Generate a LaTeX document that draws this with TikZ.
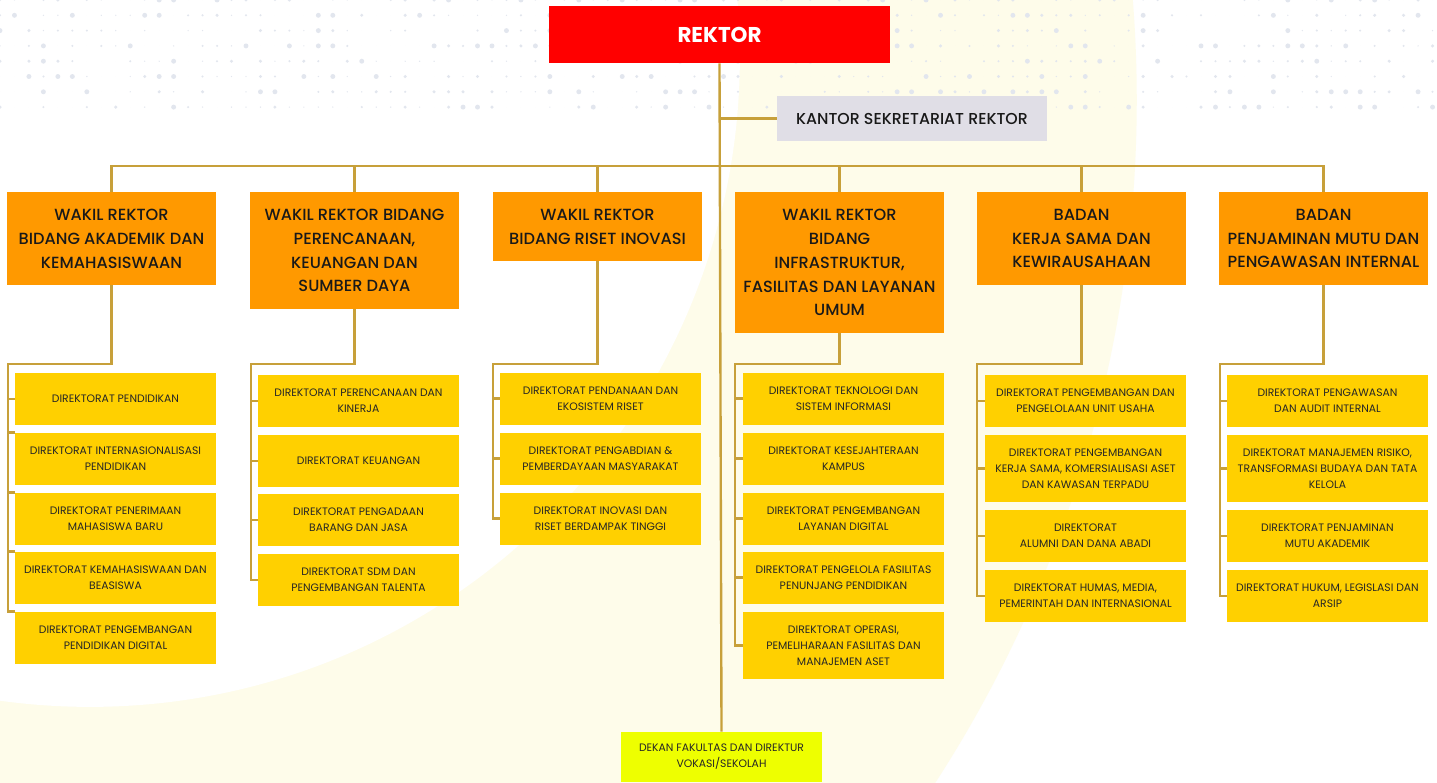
\documentclass[tikz,border=0pt]{standalone}
\usepackage{fontspec}
\setmainfont{Poppins}
\newfontfamily\popmed{Poppins Medium}
\definecolor{rekred}{RGB}{255,0,0}
\definecolor{wrorange}{RGB}{255,153,0}
\definecolor{dirgold}{RGB}{255,208,0}
\definecolor{dekyellow}{RGB}{238,255,0}
\definecolor{ksgrey}{RGB}{224,222,230}
\definecolor{linegold}{RGB}{199,160,58}
\definecolor{cream}{RGB}{254,252,234}
\definecolor{dotgrey}{RGB}{226,230,238}

\begin{document}
\begin{tikzpicture}[x=0.02cm,y=-0.02cm,
  wr/.style={fill=wrorange,minimum width=4.18cm,inner sep=0pt,align=center,text=black!90,font=\popmed\fontsize{9.2}{13.6}\selectfont},
  dir/.style={fill=dirgold,minimum width=4.02cm,minimum height=1.04cm,inner sep=0pt,align=center,text=black!85,font=\fontsize{6.15}{9.1}\selectfont},
  conn/.style={draw=linegold,line width=1.35pt}]

  \useasboundingbox (0,0) rectangle (1437,782);
  \begin{scope}
    \clip (0,0) rectangle (1437,782);
    \fill[white] (0,0) rectangle (1437,782);
    \fill[cream] (-120,100) circle (25.14cm);
    \fill[white] (90,57) circle (13cm);
    \pgfmathsetseed{11}
    \foreach \i in {0,...,99}{
      \foreach \j in {0,...,7}{
        \pgfmathsetmacro{\rr}{{0,0,0.4,0.65,0.95,1.4}[random(0,5)]}
        \fill[dotgrey] (\i*14.47,\j*15.3) circle (\rr pt);
      }}
  \end{scope}

  \node[fill=rekred,minimum width=6.82cm,minimum height=1.14cm,text=white,font=\bfseries\fontsize{12.2}{14}\selectfont] (rektor) at (719.5,34.5) {REKTOR};
  \node[fill=ksgrey,minimum width=5.4cm,minimum height=0.9cm,text=black!90,font=\popmed\fontsize{9}{11}\selectfont] (ks) at (912,118.5) {KANTOR SEKRETARIAT REKTOR};
  \node[dir,fill=dekyellow,minimum height=1.0cm] (dekan) at (721.5,757) {DEKAN FAKULTAS DAN DIREKTUR\\VOKASI/SEKOLAH};
  \coordinate (bus) at (720,166);

  \node[wr,minimum height=1.86cm] (wrA) at (111.5,238.5) {WAKIL REKTOR\\BIDANG AKADEMIK DAN\\KEMAHASISWAAN};
  \node[wr,minimum height=2.34cm] (wrB) at (354.5,250.5) {WAKIL REKTOR BIDANG\\PERENCANAAN,\\KEUANGAN DAN\\SUMBER DAYA};
  \node[wr,minimum height=1.38cm] (wrC) at (597.5,226.5) {WAKIL REKTOR\\BIDANG RISET INOVASI};
  \node[wr,minimum height=2.82cm] (wrD) at (839.5,262.5) {WAKIL REKTOR\\BIDANG\\INFRASTRUKTUR,\\FASILITAS DAN LAYANAN\\UMUM};
  \node[wr,minimum height=1.86cm] (wrE) at (1081.5,238.5) {BADAN\\KERJA SAMA DAN\\KEWIRAUSAHAAN};
  \node[wr,minimum height=1.86cm] (wrF) at (1323.5,238.5) {BADAN\\PENJAMINAN MUTU DAN\\PENGAWASAN INTERNAL};

  \node[dir] (dA1) at (115.5,399) {DIREKTORAT PENDIDIKAN};
  \node[dir] (dA2) at (115.5,459) {DIREKTORAT INTERNASIONALISASI\\PENDIDIKAN};
  \node[dir] (dA3) at (115.5,519) {DIREKTORAT PENERIMAAN\\MAHASISWA BARU};
  \node[dir] (dA4) at (115.5,578) {DIREKTORAT KEMAHASISWAAN DAN\\BEASISWA};
  \node[dir] (dA5) at (115.5,638) {DIREKTORAT PENGEMBANGAN\\PENDIDIKAN DIGITAL};

  \node[dir] (dB1) at (358.5,401) {DIREKTORAT PERENCANAAN DAN\\KINERJA};
  \node[dir] (dB2) at (358.5,461) {DIREKTORAT KEUANGAN};
  \node[dir] (dB3) at (358.5,520) {DIREKTORAT PENGADAAN\\BARANG DAN JASA};
  \node[dir] (dB4) at (358.5,580) {DIREKTORAT SDM DAN\\PENGEMBANGAN TALENTA};

  \node[dir] (dC1) at (600.5,398.5) {DIREKTORAT PENDANAAN DAN\\EKOSISTEM RISET};
  \node[dir] (dC2) at (600.5,458.5) {DIREKTORAT PENGABDIAN \&\\PEMBERDAYAAN MASYARAKAT};
  \node[dir] (dC3) at (600.5,518.5) {DIREKTORAT INOVASI DAN\\RISET BERDAMPAK TINGGI};

  \node[dir] (dD1) at (843.5,398.5) {DIREKTORAT TEKNOLOGI DAN\\SISTEM INFORMASI};
  \node[dir] (dD2) at (843.5,458.5) {DIREKTORAT KESEJAHTERAAN\\KAMPUS};
  \node[dir] (dD3) at (843.5,518.5) {DIREKTORAT PENGEMBANGAN\\LAYANAN DIGITAL};
  \node[dir] (dD4) at (843.5,577.5) {DIREKTORAT PENGELOLA FASILITAS\\PENUNJANG PENDIDIKAN};
  \node[dir,minimum height=1.34cm] (dD5) at (843.5,645.5) {DIREKTORAT OPERASI,\\PEMELIHARAAN FASILITAS DAN\\MANAJEMEN ASET};

  \node[dir] (dE1) at (1085.5,401) {DIREKTORAT PENGEMBANGAN DAN\\PENGELOLAAN UNIT USAHA};
  \node[dir,minimum height=1.34cm] (dE2) at (1085.5,468.5) {DIREKTORAT PENGEMBANGAN\\KERJA SAMA, KOMERSIALISASI ASET\\DAN KAWASAN TERPADU};
  \node[dir] (dE3) at (1085.5,536) {DIREKTORAT\\ALUMNI DAN DANA ABADI};
  \node[dir] (dE4) at (1085.5,596) {DIREKTORAT HUMAS, MEDIA,\\PEMERINTAH DAN INTERNASIONAL};

  \node[dir] (dF1) at (1327.5,401) {DIREKTORAT PENGAWASAN\\DAN AUDIT INTERNAL};
  \node[dir,minimum height=1.34cm] (dF2) at (1327.5,468.5) {DIREKTORAT MANAJEMEN RISIKO,\\TRANSFORMASI BUDAYA DAN TATA\\KELOLA};
  \node[dir] (dF3) at (1327.5,536) {DIREKTORAT PENJAMINAN\\MUTU AKADEMIK};
  \node[dir] (dF4) at (1327.5,596) {DIREKTORAT HUKUM, LEGISLASI DAN\\ARSIP};

  \coordinate (sA) at (8,364);
  \coordinate (sB) at (251,364);
  \coordinate (sC) at (493,364);
  \coordinate (sD) at (735,364);
  \coordinate (sE) at (977,364);
  \coordinate (sF) at (1220,364);

  \draw[conn] (rektor.south) -- (dekan.north);
  \draw[conn] (rektor.south |- ks.west) -- (ks.west);
  \draw[conn] (wrA.north) |- (bus) -| (wrF.north);
  \foreach \w in {B,C,D,E}
    \draw[conn] (wr\w.north) -- (wr\w.north |- bus);

  \draw[conn] (wrA.south) |- (sA) |- (dA5.north west);
  \draw[conn] (sA |- dA1.west) -- (dA1.west);
  \foreach \k in {2,3,4}
    \draw[conn] (sA |- dA\k.north west) -- (dA\k.north west);

  \draw[conn] (wrB.south) |- (sB) |- (dB4.west);
  \foreach \k in {1,2,3}
    \draw[conn] (sB |- dB\k.west) -- (dB\k.west);

  \draw[conn] (wrC.south) |- (sC) |- (dC3.west);
  \foreach \k in {1,2}
    \draw[conn] (sC |- dC\k.west) -- (dC\k.west);

  \draw[conn] (wrD.south) |- (sD) |- (dD5.west);
  \foreach \k in {1,2,3,4}
    \draw[conn] (sD |- dD\k.west) -- (dD\k.west);

  \draw[conn] (wrE.south) |- (sE) |- (dE4.west);
  \foreach \k in {1,2,3}
    \draw[conn] (sE |- dE\k.west) -- (dE\k.west);

  \draw[conn] (wrF.south) |- (sF) |- (dF4.west);
  \foreach \k in {1,2,3}
    \draw[conn] (sF |- dF\k.west) -- (dF\k.west);

\end{tikzpicture}
\end{document}
